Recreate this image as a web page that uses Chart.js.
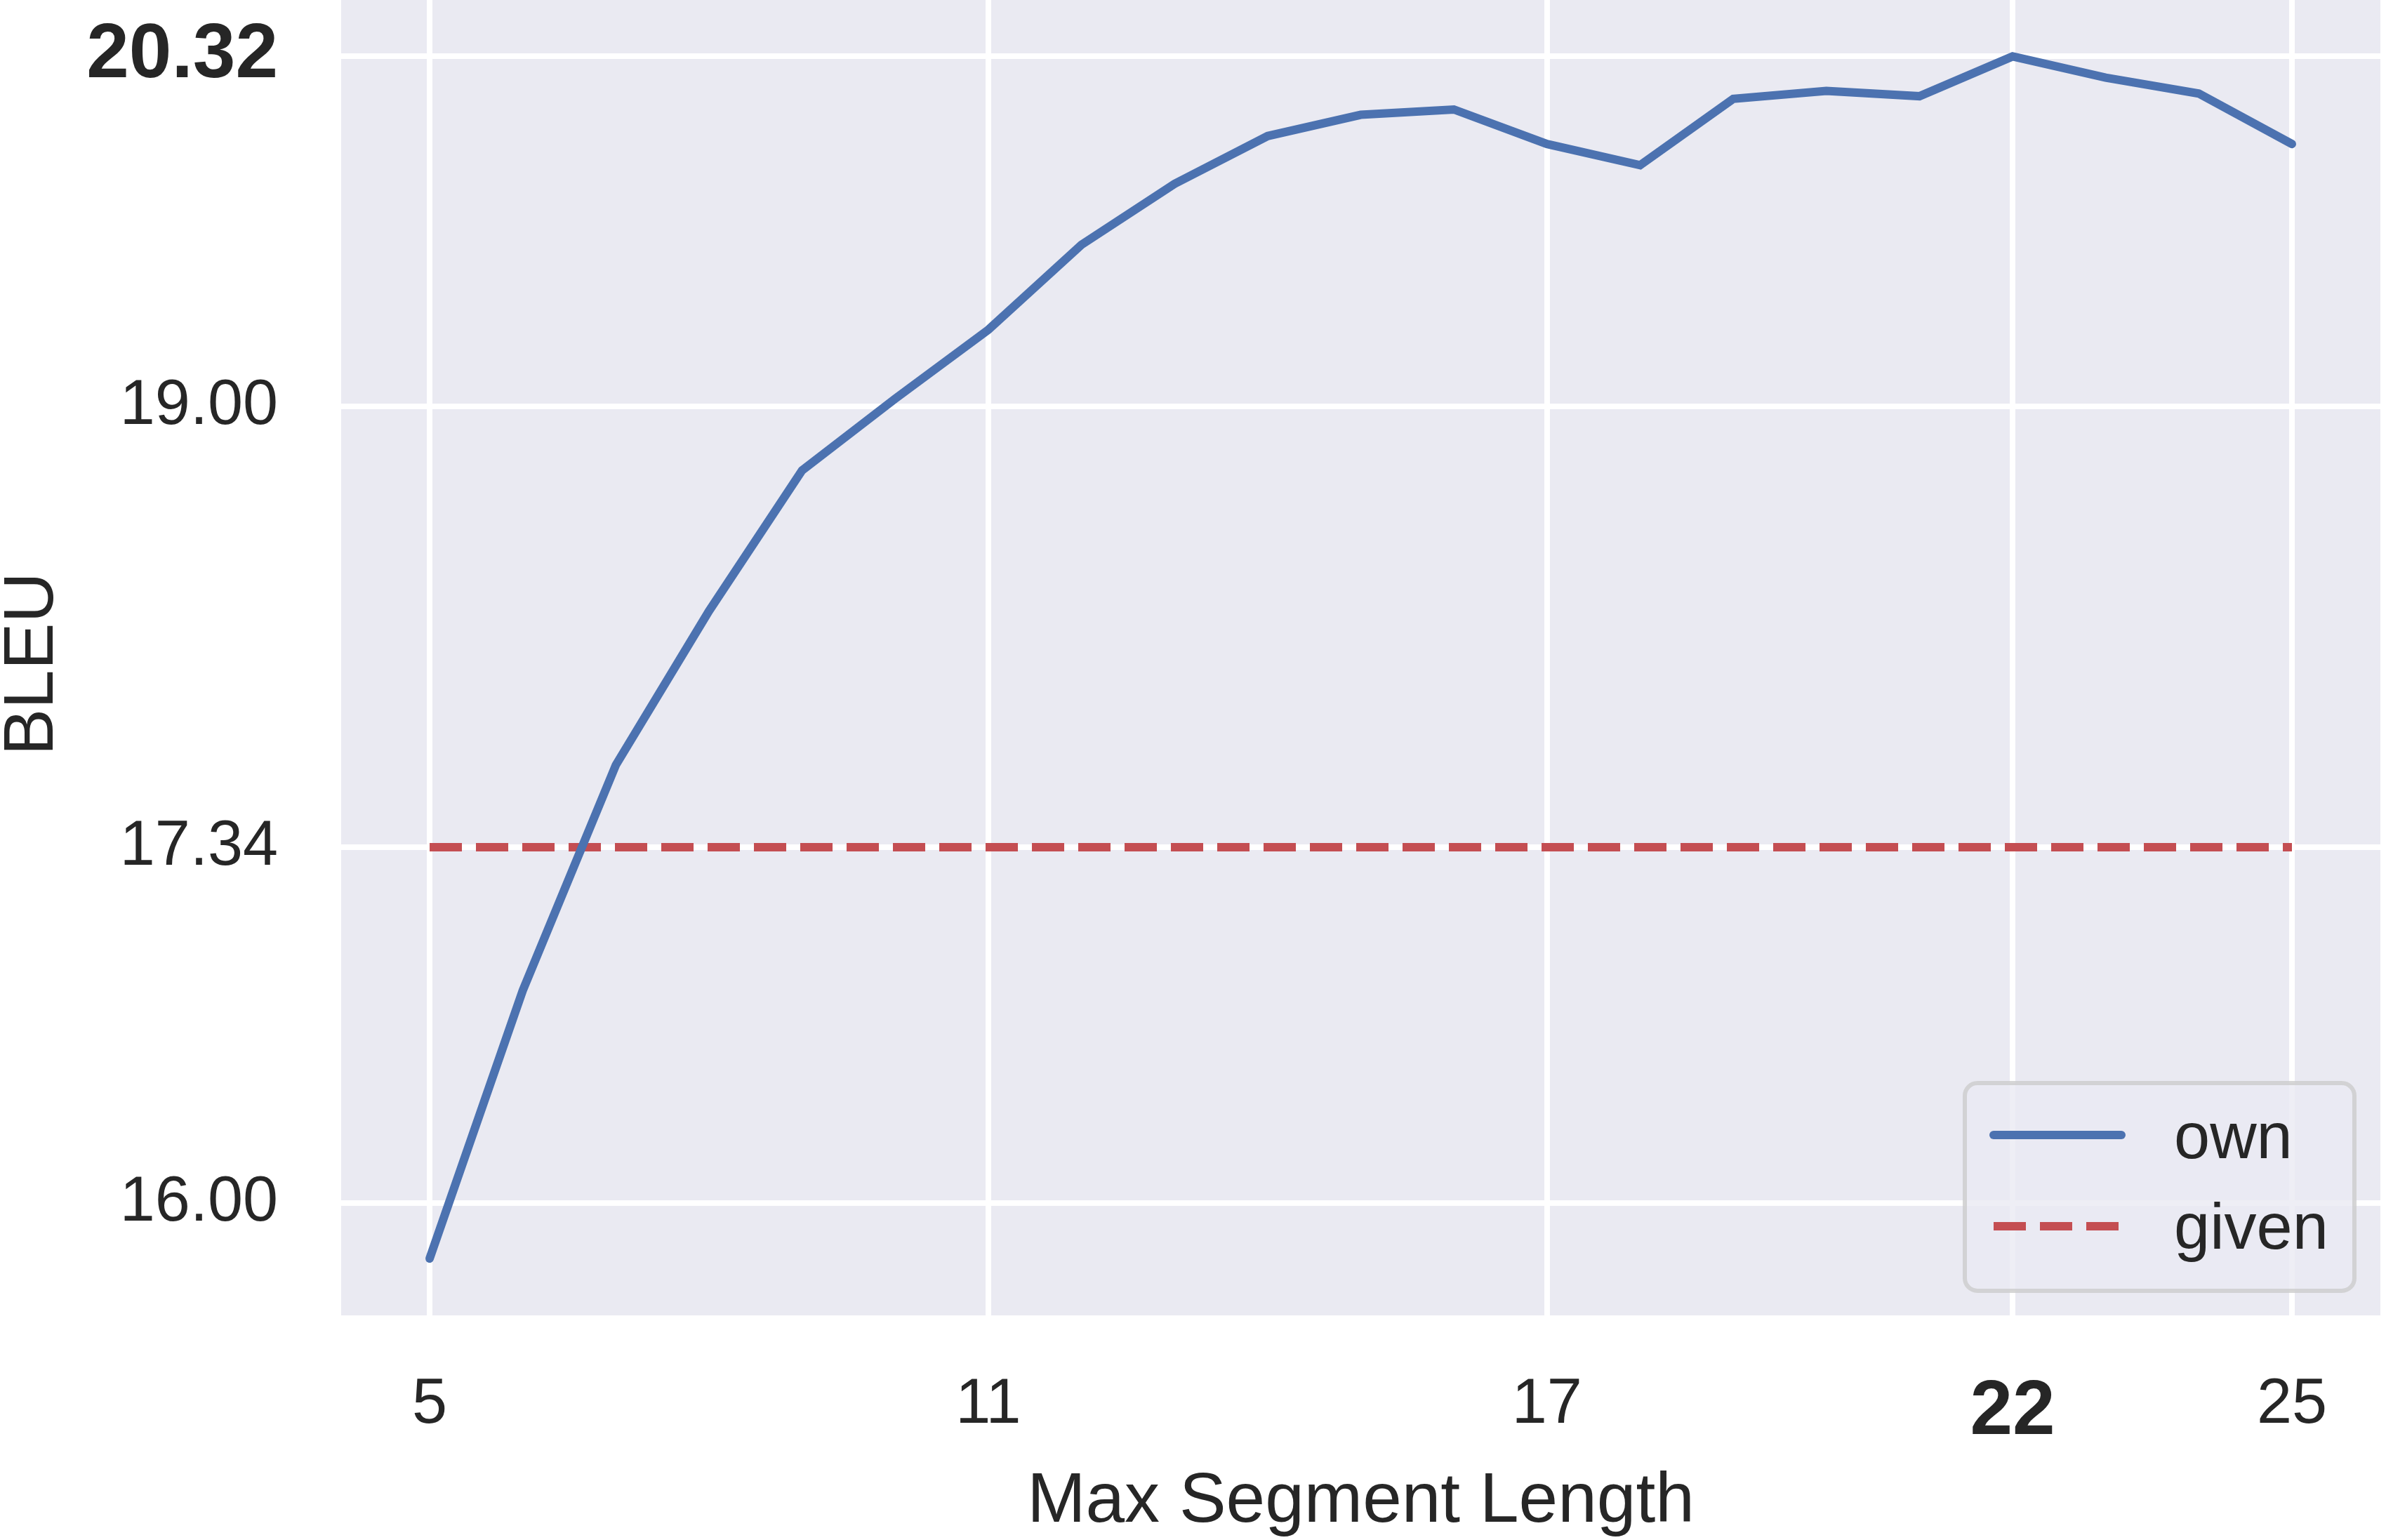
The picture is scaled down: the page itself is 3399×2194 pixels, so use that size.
<!DOCTYPE html>
<html>
<head>
<meta charset="utf-8">
<style>
  html, body { margin: 0; padding: 0; background: #ffffff; }
  #wrap { width: 3399px; height: 2194px; }
</style>
<script src="https://cdn.jsdelivr.net/npm/chart.js@4"></script>
</head>
<body>
<div id="wrap"><canvas id="c" width="3399" height="2194"></canvas></div>
<script>
// ---- data ----
const segmentLengths = [5, 6, 7, 8, 9, 10, 11, 12, 13, 14, 15, 16, 17, 18, 19, 20, 21, 22, 23, 24, 25];
const ownBleu = [15.79, 16.80, 17.65, 18.23, 18.76, 19.03, 19.29, 19.61, 19.84, 20.02, 20.10, 20.12, 19.99, 19.91, 20.16, 20.19, 20.17, 20.32, 20.24, 20.18, 19.99];
const givenBleu = [17.34, 17.34, 17.34, 17.34, 17.34, 17.34, 17.34, 17.34, 17.34, 17.34, 17.34, 17.34, 17.34, 17.34, 17.34, 17.34, 17.34, 17.34, 17.34, 17.34, 17.34];
const seriesNames = ['own', 'given'];
const xTickValues = [5, 11, 17, 22, 25];
const yTickValues = [16.00, 17.34, 19.00, 20.32];
const boldXTicks = [22];
const boldYTicks = [20.32];
const xAxisTitle = 'Max Segment Length';
const yAxisTitle = 'BLEU';

// ---- styles ----
const FAMILY = '"Liberation Sans", Arial, Helvetica, sans-serif';
const TEXT = '#262626';
const BLUE = '#4C72B0';
const RED = '#C44E52';
const PANEL = '#EAEAF2';

const panelBg = {
  id: 'panelBg',
  beforeDraw(chart) {
    const { ctx, chartArea: a } = chart;
    ctx.save();
    ctx.fillStyle = '#ffffff';
    ctx.fillRect(0, 0, chart.width, chart.height);
    ctx.fillStyle = PANEL;
    ctx.fillRect(a.left, a.top, a.right - a.left, a.bottom - a.top);
    ctx.restore();
  }
};

// y-axis title, drawn rotated beside the y scale
const yTitle = {
  id: 'yTitle',
  afterDraw(chart) {
    const { ctx, chartArea: a } = chart;
    ctx.save();
    ctx.translate(47, (a.top + a.bottom) / 2 + 9);
    ctx.rotate(-Math.PI / 2);
    ctx.fillStyle = TEXT;
    ctx.font = '100px ' + FAMILY;
    ctx.textAlign = 'center';
    ctx.textBaseline = 'middle';
    ctx.fillText(yAxisTitle, 0, 0);
    ctx.restore();
  }
};

function roundRect(ctx, x, y, w, h, r) {
  ctx.beginPath();
  ctx.moveTo(x + r, y);
  ctx.lineTo(x + w - r, y);
  ctx.arcTo(x + w, y, x + w, y + r, r);
  ctx.lineTo(x + w, y + h - r);
  ctx.arcTo(x + w, y + h, x + w - r, y + h, r);
  ctx.lineTo(x + r, y + h);
  ctx.arcTo(x, y + h, x, y + h - r, r);
  ctx.lineTo(x, y + r);
  ctx.arcTo(x, y, x + r, y, r);
  ctx.closePath();
}

const boxLegend = {
  id: 'boxLegend',
  afterDraw(chart) {
    const { ctx, chartArea: a } = chart;
    const w = 555, h = 296;
    const bx = a.right - 37 - w;
    const by = a.bottom - 35 - h;
    ctx.save();
    roundRect(ctx, bx, by, w, h, 18);
    ctx.fillStyle = 'rgba(234,234,242,0.8)';
    ctx.fill();
    ctx.lineWidth = 6;
    ctx.strokeStyle = 'rgba(204,204,204,0.8)';
    ctx.stroke();

    const rows = [by + 74, by + 204];
    const baselines = [by + 107, by + 236];
    chart.data.datasets.forEach((ds, i) => {
      ctx.beginPath();
      ctx.strokeStyle = ds.borderColor;
      ctx.lineWidth = ds.borderWidth;
      ctx.lineCap = ds.borderCapStyle || 'butt';
      ctx.setLineDash(ds.borderDash || []);
      ctx.moveTo(bx + 41, rows[i]);
      ctx.lineTo(bx + 223, rows[i]);
      ctx.stroke();
      ctx.setLineDash([]);
      ctx.fillStyle = TEXT;
      ctx.font = '92px ' + FAMILY;
      ctx.textAlign = 'left';
      ctx.textBaseline = 'alphabetic';
      ctx.fillText(ds.label, bx + 298, baselines[i]);
    });
    ctx.restore();
  }
};

function zeroPad(s) {
  s.paddingLeft = 0; s.paddingRight = 0; s.paddingTop = 0; s.paddingBottom = 0;
}

const chart = new Chart(document.getElementById('c'), {
  type: 'line',
  data: {
    datasets: [
      {
        label: seriesNames[0],
        data: segmentLengths.map((x, i) => ({ x: x, y: ownBleu[i] })),
        borderColor: BLUE,
        borderWidth: 12,
        borderCapStyle: 'round',
        borderJoinStyle: 'miter',
        pointRadius: 0,
        fill: false,
        tension: 0
      },
      {
        label: seriesNames[1],
        data: segmentLengths.map((x, i) => ({ x: x, y: givenBleu[i] })),
        borderColor: RED,
        borderWidth: 12,
        borderDash: [46, 20],
        borderCapStyle: 'butt',
        pointRadius: 0,
        fill: false,
        tension: 0
      }
    ]
  },
  options: {
    responsive: false,
    animation: false,
    devicePixelRatio: 1,
    layout: { padding: { left: 0, right: 8, top: 0, bottom: 0 } },
    plugins: { legend: { display: false }, tooltip: { enabled: false } },
    scales: {
      x: {
        type: 'linear',
        min: 4.05,
        max: 25.95,
        afterBuildTicks: s => { s.ticks = xTickValues.map(v => ({ value: v })); },
        afterFit: s => { s.height = 320; zeroPad(s); },
        grid: { color: '#ffffff', lineWidth: 8, drawTicks: false },
        border: { display: false },
        ticks: {
          autoSkip: false, maxRotation: 0, minRotation: 0, padding: 74, color: TEXT,
          font: ctx => (ctx.tick && boldXTicks.includes(ctx.tick.value))
            ? { family: FAMILY, size: 109, weight: 'bold' }
            : { family: FAMILY, size: 90 },
          callback: v => String(v)
        },
        title: {
          display: true, text: xAxisTitle, color: TEXT,
          font: { family: FAMILY, size: 100, lineHeight: 1.2 },
          padding: { top: 0, bottom: -6 }
        }
      },
      y: {
        type: 'linear',
        min: 15.576,
        max: 20.5326,
        afterBuildTicks: s => { s.ticks = yTickValues.map(v => ({ value: v })); },
        afterFit: s => { s.width = 486; zeroPad(s); },
        grid: { color: '#ffffff', lineWidth: 8, drawTicks: false },
        border: { display: false },
        ticks: {
          autoSkip: false, padding: 90, color: TEXT,
          font: ctx => (ctx.tick && boldYTicks.includes(ctx.tick.value))
            ? { family: FAMILY, size: 109, weight: 'bold' }
            : { family: FAMILY, size: 90 },
          callback: v => Number(v).toFixed(2)
        },
        title: { display: false }
      }
    }
  },
  plugins: [panelBg, boxLegend, yTitle]
});
</script>
</body>
</html>
